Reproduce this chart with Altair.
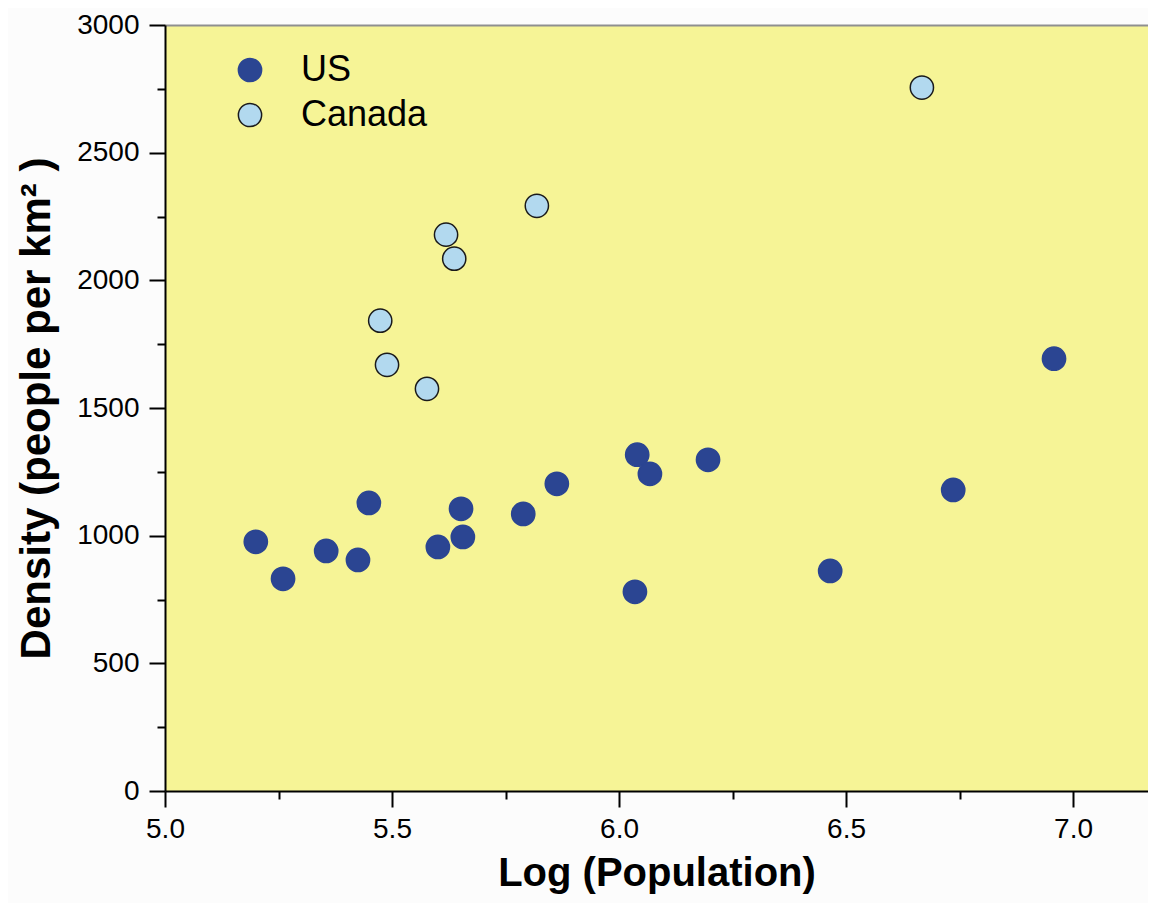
import altair as alt
import pandas as pd

# Data
us_logpop = [5.200, 5.260, 5.355, 5.425, 5.449, 5.601, 5.652, 5.656, 5.789,
             5.863, 6.040, 6.068, 6.035, 6.196, 6.465, 6.736, 6.958]
us_density = [976, 831, 940, 905, 1128, 956, 1105, 995, 1085,
              1203, 1317, 1242, 780, 1297, 862, 1179, 1693]
ca_logpop = [5.474, 5.489, 5.577, 5.619, 5.637, 5.819, 6.667]
ca_density = [1842, 1669, 1575, 2179, 2085, 2292, 2755]

countries = ["US", "Canada"]
fill_colors = ["#2b4592", "#b2d9ef"]
stroke_colors = ["#2b4592", "#1a1a1a"]

x_major = [5.0, 5.5, 6.0, 6.5, 7.0]
x_minor = [5.25, 5.75, 6.25, 6.75]
y_major = [0, 500, 1000, 1500, 2000, 2500, 3000]
y_minor = [250, 750, 1250, 1750, 2250, 2750]

df = pd.DataFrame({
    "logpop": us_logpop + ca_logpop,
    "density": us_density + ca_density,
    "country": ["US"] * len(us_logpop) + ["Canada"] * len(ca_logpop),
})

FONT = "Liberation Sans"
x_dom = [5.0, 7.165]
y_dom = [0, 3000]

legend = alt.Legend(
    title=None, orient="none", legendX=67, legendY=27,
    symbolSize=540, symbolStrokeWidth=1.5, symbolOpacity=1,
    labelFontSize=36, labelFont=FONT, labelColor="black",
    labelOffset=33, rowPadding=9, padding=0, symbolType="circle",
)

xs = alt.Scale(domain=x_dom, nice=False, zero=False)
ys = alt.Scale(domain=y_dom, nice=False)

points = alt.Chart(df).mark_circle(size=540, opacity=1, strokeWidth=1.5).encode(
    x=alt.X("logpop:Q", scale=xs,
            axis=alt.Axis(values=x_major, format=".1f", title="Log (Population)",
                          tickSize=16, labelPadding=8, titlePadding=10,
                          labelFlush=False, orient="bottom")),
    y=alt.Y("density:Q", scale=ys,
            axis=alt.Axis(values=y_major, format="d",
                          title="Density (people per km² )",
                          titleFontSize=42,
                          tickSize=16, labelPadding=10, titlePadding=18,
                          labelFlush=False, orient="left")),
    fill=alt.Fill("country:N", scale=alt.Scale(domain=countries, range=fill_colors),
                  legend=legend),
    stroke=alt.Stroke("country:N", scale=alt.Scale(domain=countries, range=stroke_colors),
                      legend=legend),
)

minor = alt.Chart(df).mark_circle(opacity=0).encode(
    x=alt.X("logpop:Q", scale=xs,
            axis=alt.Axis(values=x_minor, labels=False, domain=False, title=None,
                          tickSize=8, orient="bottom")),
    y=alt.Y("density:Q", scale=ys,
            axis=alt.Axis(values=y_minor, labels=False, domain=False, title=None,
                          tickSize=8, orient="left")),
)

top_border = alt.Chart(df).mark_circle(opacity=0).encode(
    x=alt.X("logpop:Q", scale=xs,
            axis=alt.Axis(orient="top", ticks=False, labels=False, title=None,
                          domain=True, domainColor="#8f8f8f", domainWidth=2)),
    y=alt.Y("density:Q", scale=ys, axis=None),
)

chart = alt.layer(top_border, minor, points).resolve_axis(
    x="independent", y="independent"
).properties(
    width=983, height=766,
    autosize=alt.AutoSizeParams(type="none"),
    padding={"left": 157, "top": 17, "right": 0, "bottom": 112},
    background="#fcfcfc",
).configure_view(
    fill="#f6f496", stroke=None,
).configure_axis(
    domainColor="black", domainWidth=2, tickColor="black", tickWidth=2,
    labelColor="black", labelFont=FONT, labelFontSize=28,
    titleColor="black", titleFont=FONT, titleFontSize=40, titleFontWeight="bold",
    grid=False,
)

chart.save("out.html", embed_options={"renderer": "svg", "actions": False})
